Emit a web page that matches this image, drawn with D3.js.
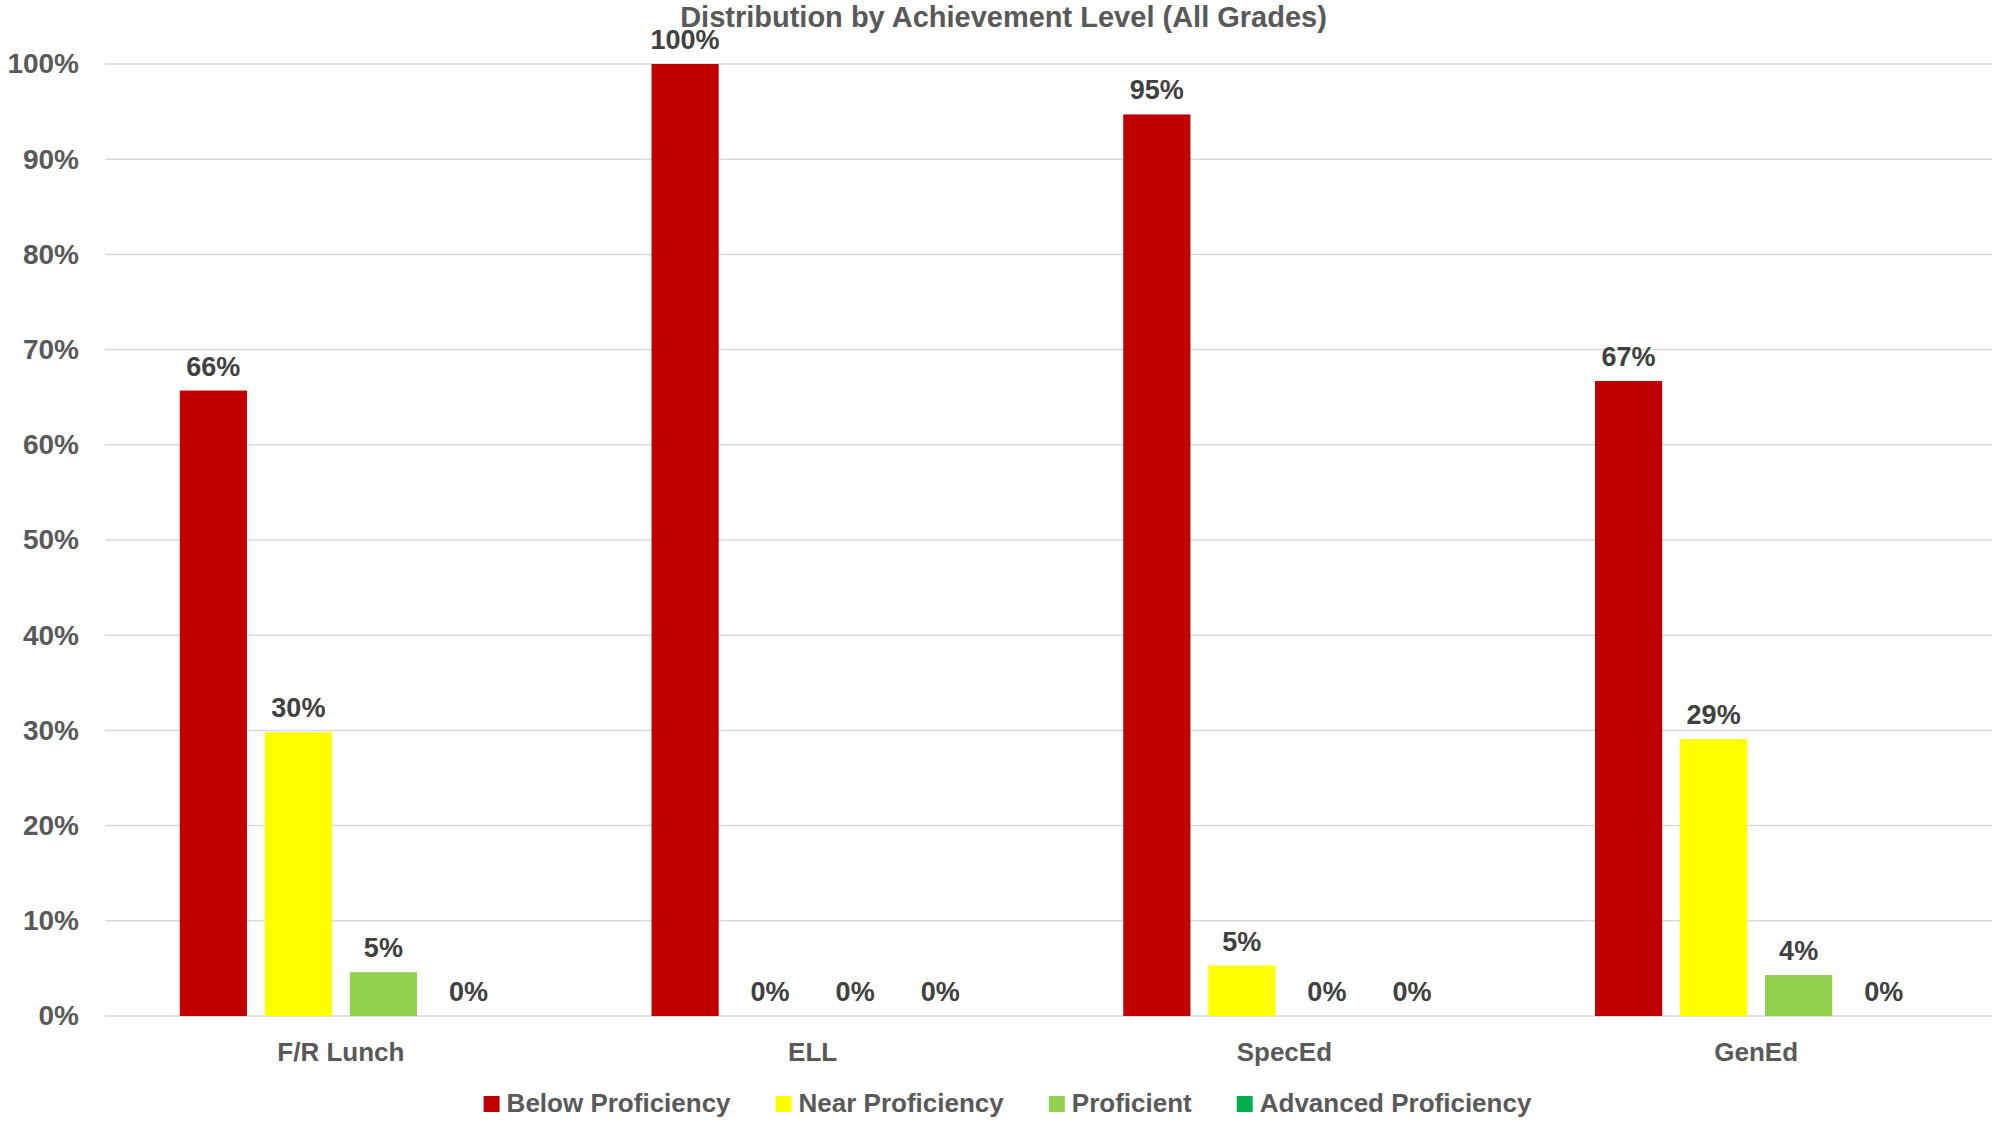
<!DOCTYPE html>
<html><head><meta charset="utf-8">
<script src="https://cdn.jsdelivr.net/npm/d3@7"></script>
<style>
html,body{margin:0;padding:0;background:#fff;}
text{font-family:"Liberation Sans",Arial,sans-serif;font-weight:bold;}
</style></head>
<body>
<svg id="chart" width="2007" height="1128"></svg>
<script>
const categories = ["F/R Lunch", "ELL", "SpecEd", "GenEd"];
const seriesNames = ["Below Proficiency", "Near Proficiency", "Proficient", "Advanced Proficiency"];
const seriesColors = ["#C00000", "#FFFF00", "#92D050", "#00B050"];
const belowValues = [0.657, 1.00, 0.947, 0.667];
const nearValues = [0.298, 0.0, 0.053, 0.291];
const proficientValues = [0.046, 0.0, 0.0, 0.043];
const advancedValues = [0.0, 0.0, 0.0, 0.0];
const yTicks = [0, 0.1, 0.2, 0.3, 0.4, 0.5, 0.6, 0.7, 0.8, 0.9, 1.0];
const title = "Distribution by Achievement Level (All Grades)";

const seriesValues = [belowValues, nearValues, proficientValues, advancedValues];
const W = 2007, H = 1128;
const m = {left:105, right:15, top:64, bottom:112};
const svg = d3.select("#chart");
const pw = W - m.left - m.right, ph = H - m.top - m.bottom;

const y = d3.scaleLinear().domain([0,1]).range([m.top + ph, m.top]);
const x0 = d3.scaleBand().domain(categories).range([m.left, m.left + pw]).paddingInner(0.317).paddingOuter(0.1585);
const x1 = d3.scaleBand().domain(seriesNames).range([0, x0.bandwidth()]).paddingInner(0.21).paddingOuter(0);
const fmt = d3.format(".0%");

// gridlines
svg.append("g").selectAll("line").data(yTicks).join("line")
  .attr("x1", m.left).attr("x2", m.left + pw)
  .attr("y1", d => y(d)).attr("y2", d => y(d))
  .attr("stroke", "#d9d9d9").attr("stroke-width", 1.5);

// y axis labels
const yAxis = d3.axisLeft(y).tickValues(yTicks).tickFormat(fmt).tickSize(0).tickPadding(26);
const ya = svg.append("g").attr("transform", `translate(${m.left},0)`).call(yAxis);
ya.select(".domain").remove();
ya.selectAll("text").attr("fill", "#595959").style("font-size", "28px")
  .style("font-family", '"Liberation Sans",Arial,sans-serif').style("font-weight", "bold");

// x axis labels
const xAxis = d3.axisBottom(x0).tickSize(0).tickPadding(27);
const xa = svg.append("g").attr("transform", `translate(0,${m.top + ph})`).call(xAxis);
xa.select(".domain").remove();
xa.selectAll("text").attr("fill", "#595959").style("font-size", "26px")
  .style("font-family", '"Liberation Sans",Arial,sans-serif').style("font-weight", "bold");

// bars
const data = [];
categories.forEach((c, ci) => seriesNames.forEach((s, si) => data.push({c, s, si, v: seriesValues[si][ci]})));
const groups = svg.append("g");
groups.selectAll("rect").data(data).join("rect")
  .attr("x", d => x0(d.c) + x1(d.s))
  .attr("width", x1.bandwidth())
  .attr("y", d => y(d.v))
  .attr("height", d => y(0) - y(d.v))
  .attr("fill", d => seriesColors[d.si]);

groups.selectAll("text").data(data).join("text")
  .attr("x", d => x0(d.c) + x1(d.s) + x1.bandwidth()/2)
  .attr("y", d => y(d.v) - 15)
  .attr("text-anchor", "middle")
  .attr("fill", "#404040")
  .style("font-size", "27px")
  .text(d => fmt(d.v));

// title
svg.append("text").attr("x", W/2 + 0).attr("y", 27).attr("text-anchor", "middle")
  .attr("fill", "#595959").style("font-size", "29px").text(title);

// legend
const lg = svg.append("g");
const items = lg.selectAll("g").data(seriesNames).join("g");
items.append("rect").attr("width", 16).attr("height", 16).attr("y", -16)
  .attr("fill", (d,i) => seriesColors[i]);
items.append("text").attr("x", 23).attr("y", 0).attr("fill", "#595959")
  .style("font-size", "26px").text(d => d);
let xpos = 0;
items.each(function(){
  const w = 23 + this.querySelector("text").getComputedTextLength();
  d3.select(this).attr("transform", `translate(${xpos},0)`);
  xpos += w + 45;
});
const totalW = xpos - 45;
lg.attr("transform", `translate(${(W - totalW)/2 + 4},1112)`);
</script>
</body></html>
